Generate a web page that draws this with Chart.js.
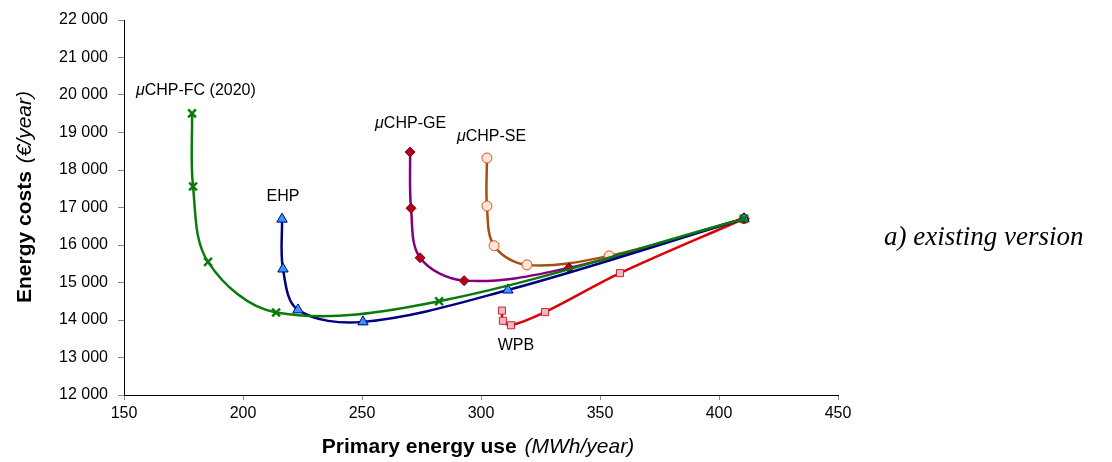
<!DOCTYPE html>
<html>
<head>
<meta charset="utf-8">
<script src="https://cdn.jsdelivr.net/npm/chart.js@4/dist/chart.umd.min.js"></script>
<style>
  html, body { margin: 0; padding: 0; background: #fff; }
  #wrap { width: 1112px; height: 462px; position: relative; }
</style>
</head>
<body>
<div id="wrap"><canvas id="energyChart"></canvas></div>
<script>
// data (x = MWh/year, y = €/year)
var fcX  = [410.5, 282.4, 213.9, 185.3, 179.0, 178.6];
var fcY  = [16700, 14500, 14200, 15550, 17560, 19510];
var ehpX = [410.5, 311.3, 250.4, 223.1, 216.8, 216.4];
var ehpY = [16700, 14800, 13950, 14270, 15360, 16690];
var geX  = [410.5, 337.0, 292.9, 274.4, 270.6, 270.2];
var geY  = [16700, 15390, 15050, 15660, 16980, 18480];
var seX  = [410.5, 353.8, 319.3, 305.5, 302.5, 302.5];
var seY  = [16700, 15710, 15470, 15980, 17040, 18320];
var wpbX = [410.5, 358.4, 326.9, 312.6, 309.2, 308.8];
var wpbY = [16700, 15250, 14210, 13860, 13980, 14250];

var xTicks = [150, 200, 250, 300, 350, 400, 450];
var yMin = 12000, yMax = 22000, yStep = 1000;

// labels next to the curves
var seriesLabels = [
    { text: 'CHP-FC (2020)', mu: true, x: 155.0, y: 20130, align: 'left' },
    { text: 'EHP',           mu: false, x: 216.8, y: 17280, align: 'center' },
    { text: 'CHP-GE',        mu: true, x: 255.5, y: 19250, align: 'left' },
    { text: 'CHP-SE',        mu: true, x: 289.9, y: 18880, align: 'left' },
    { text: 'WPB',           mu: false, x: 314.7, y: 13330, align: 'center' }
];

function pts(xs, ys) {
    var out = [];
    for (var i = 0; i < xs.length; i++) out.push({ x: xs[i], y: ys[i] });
    return out;
}

function fmtThousands(v) {
    return String(v).replace(/\B(?=(\d{3})+(?!\d))/g, ' ');
}

var LABEL_FONT = '16px "Liberation Sans", Arial, sans-serif';
var LABEL_MU   = 'italic 16px "Liberation Sans", Arial, sans-serif';

// draws axis titles, curve names and the side caption
var textPlugin = {
    id: 'textPlugin',
    afterDraw: function(chart) {
        var ctx = chart.ctx;
        var xs = chart.scales.x, ys = chart.scales.y;
        var area = chart.chartArea;
        ctx.save();
        ctx.fillStyle = '#000';
        ctx.textBaseline = 'middle';

        seriesLabels.forEach(function(l) {
            var px = xs.getPixelForValue(l.x);
            var py = ys.getPixelForValue(l.y);
            ctx.font = LABEL_MU;
            var muW = l.mu ? ctx.measureText('μ').width : 0;
            ctx.font = LABEL_FONT;
            var tW = ctx.measureText(l.text).width;
            var start = l.align === 'center' ? px - (muW + tW) / 2 : px;
            ctx.textAlign = 'left';
            if (l.mu) {
                ctx.font = LABEL_MU;
                ctx.fillText('μ', start, py);
            }
            ctx.font = LABEL_FONT;
            ctx.fillText(l.text, start + muW, py);
        });

        // x title
        var bold = 'bold 21px "Liberation Sans", Arial, sans-serif';
        var ital = 'italic 21px "Liberation Sans", Arial, sans-serif';
        var b1 = 'Primary energy use', i1 = '(MWh/year)';
        ctx.font = bold; var wb = ctx.measureText(b1 + ' ').width;
        ctx.font = ital; var wi = ctx.measureText(i1).width;
        var cx = (area.left + area.right) / 2 - 4;
        var sx = cx - (wb + wi) / 2;
        ctx.textAlign = 'left';
        ctx.font = bold; ctx.fillText(b1, sx, 447);
        ctx.font = ital; ctx.fillText(i1, sx + wb + 2, 447);

        // y title (rotated)
        var b2 = 'Energy costs', i2 = '(€/year)';
        ctx.font = bold; var wb2 = ctx.measureText(b2 + ' ').width;
        ctx.font = ital; var wi2 = ctx.measureText(i2).width;
        ctx.translate(25, 198);
        ctx.rotate(-Math.PI / 2);
        var sy = -(wb2 + wi2) / 2;
        ctx.font = bold; ctx.fillText(b2, sy, 0);
        ctx.font = ital; ctx.fillText(i2, sy + wb2 + 2, 0);
        ctx.setTransform(1, 0, 0, 1, 0, 0);

        // caption on the right
        ctx.font = 'italic 27px "Liberation Serif", "Times New Roman", serif';
        ctx.textAlign = 'left';
        ctx.fillText('a) existing version', 884, 238);
        ctx.restore();
    }
};

var common = {
    showLine: true,
    tension: 0.35,
    borderWidth: 2.5,
    pointBorderWidth: 1
};

var ctx = document.getElementById('energyChart').getContext('2d');
var chart = new Chart(ctx, {
    type: 'scatter',
    data: {
        datasets: [
            Object.assign({}, common, {
                label: 'μCHP-FC (2020)',
                data: pts(fcX, fcY),
                borderColor: '#0A7A0A',
                pointStyle: 'crossRot',
                pointRadius: 5.5,
                pointBorderWidth: 2.5,
                pointBorderColor: '#0A7A0A',
                pointBackgroundColor: '#0A7A0A'
            }),
            Object.assign({}, common, {
                label: 'EHP',
                data: pts(ehpX, ehpY),
                borderColor: '#000080',
                pointStyle: 'triangle',
                pointRadius: 6,
                pointBorderColor: '#000080',
                pointBackgroundColor: '#3399FF'
            }),
            Object.assign({}, common, {
                label: 'μCHP-GE',
                data: pts(geX, geY),
                borderColor: '#800080',
                pointStyle: 'rectRot',
                pointRadius: 5,
                pointBorderColor: '#8B0000',
                pointBackgroundColor: '#B00020'
            }),
            Object.assign({}, common, {
                label: 'μCHP-SE',
                data: pts(seX, seY),
                borderColor: '#A5500F',
                pointStyle: 'circle',
                pointRadius: 5,
                pointBorderColor: '#E0531E',
                pointBackgroundColor: '#FFE6D8'
            }),
            Object.assign({}, common, {
                label: 'WPB',
                data: pts(wpbX, wpbY),
                borderColor: '#DD0000',
                pointStyle: 'rect',
                pointRadius: 5,
                pointBorderColor: '#D02035',
                pointBackgroundColor: '#F2B8C0'
            })
        ]
    },
    options: {
        responsive: true,
        maintainAspectRatio: false,
        animation: false,
        layout: { padding: { left: 0, top: 20, right: 274, bottom: 0 } },
        plugins: {
            legend: { display: false },
            tooltip: { enabled: false }
        },
        scales: {
            x: {
                type: 'linear',
                min: xTicks[0],
                max: xTicks[xTicks.length - 1],
                afterFit: function(s) { s.height = 67; },
                afterBuildTicks: function(s) {
                    s.ticks = xTicks.map(function(v) { return { value: v }; });
                },
                grid: { drawOnChartArea: false, tickLength: 5, color: '#888' },
                border: { color: '#000', width: 1 },
                ticks: {
                    padding: 4,
                    color: '#000',
                    font: { family: '"Liberation Sans", Arial, sans-serif', size: 16 }
                }
            },
            y: {
                type: 'linear',
                min: yMin,
                max: yMax,
                afterFit: function(s) { s.width = 124; },
                grid: { drawOnChartArea: false, tickLength: 6, color: '#888' },
                border: { color: '#000', width: 1 },
                ticks: {
                    stepSize: yStep,
                    padding: 10,
                    color: '#000',
                    font: { family: '"Liberation Sans", Arial, sans-serif', size: 16 },
                    callback: function(v) { return fmtThousands(v); }
                }
            }
        }
    },
    plugins: [textPlugin]
});
</script>
</body>
</html>
